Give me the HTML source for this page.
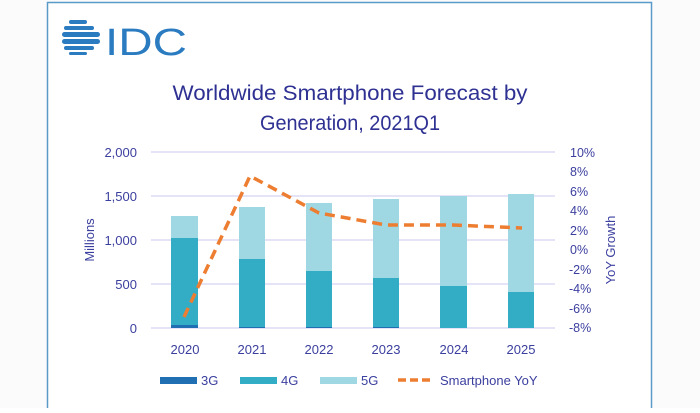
<!DOCTYPE html>
<html><head><meta charset="utf-8"><style>
html,body{margin:0;padding:0;background:#fff;}
body{width:700px;height:408px;overflow:hidden;}
</style></head><body>
<svg width="700" height="408" viewBox="0 0 700 408" xmlns="http://www.w3.org/2000/svg" font-family="Liberation Sans, sans-serif">
<rect x="0" y="0" width="700" height="408" fill="#fbfbfb"/>
<rect x="47.5" y="2.5" width="604" height="420" fill="#fff" stroke="#5a9ac8" stroke-width="1.5"/>
<!-- logo -->
<g fill="#2a7bc0">
<rect x="69" y="20" width="18" height="4" rx="2"/>
<rect x="64" y="26" width="30" height="4" rx="2"/>
<rect x="62" y="32" width="38" height="5" rx="2.5"/>
<rect x="62" y="39" width="38" height="5" rx="2.5"/>
<rect x="64" y="46" width="30" height="4" rx="2"/>
<rect x="69" y="52" width="18" height="3" rx="1.5"/>
</g>
<text x="105" y="55" font-size="38" fill="#2a7bc0" textLength="82" lengthAdjust="spacingAndGlyphs">IDC</text>
<text x="350" y="100" font-size="21" fill="#2e3192" text-anchor="middle" textLength="355" lengthAdjust="spacingAndGlyphs">Worldwide Smartphone Forecast by</text>
<text x="350" y="130" font-size="21" fill="#2e3192" text-anchor="middle" textLength="180" lengthAdjust="spacingAndGlyphs">Generation, 2021Q1</text>
<!-- grid -->
<g stroke="#c8c8ee" stroke-width="1">
<line x1="151" y1="152" x2="555" y2="152"/>
<line x1="151" y1="196" x2="555" y2="196"/>
<line x1="151" y1="240" x2="555" y2="240"/>
<line x1="151" y1="284" x2="555" y2="284"/>
<line x1="151" y1="328" x2="555" y2="328"/>
</g>
<g font-size="13" fill="#3b3f9e" text-anchor="end">
<text x="137" y="157">2,000</text>
<text x="137" y="201">1,500</text>
<text x="137" y="245">1,000</text>
<text x="137" y="289">500</text>
<text x="137" y="333">0</text>
</g>
<text transform="translate(94,240) rotate(-90)" font-size="13" fill="#3b3f9e" text-anchor="middle">Millions</text>
<!-- bars -->
<g>
<rect x="171" y="216" width="27" height="22" fill="#9fd7e3"/><rect x="171" y="238" width="27" height="87" fill="#33adc6"/><rect x="171" y="325" width="27" height="3" fill="#1f6fb2"/>
<rect x="239" y="207" width="26" height="52" fill="#9fd7e3"/><rect x="239" y="259" width="26" height="68" fill="#33adc6"/><rect x="239" y="327" width="26" height="1" fill="#1f6fb2"/>
<rect x="306" y="203" width="26" height="68" fill="#9fd7e3"/><rect x="306" y="271" width="26" height="56" fill="#33adc6"/><rect x="306" y="327" width="26" height="1" fill="#1f6fb2"/>
<rect x="373" y="199" width="26" height="79" fill="#9fd7e3"/><rect x="373" y="278" width="26" height="49" fill="#33adc6"/><rect x="373" y="327" width="26" height="1" fill="#1f6fb2"/>
<rect x="440" y="196" width="27" height="90" fill="#9fd7e3"/><rect x="440" y="286" width="27" height="42" fill="#33adc6"/>
<rect x="508" y="194" width="26" height="98" fill="#9fd7e3"/><rect x="508" y="292" width="26" height="36" fill="#33adc6"/>
</g>
<polyline points="184,317 250,176 319,213 386,225 453,225 522,228" fill="none" stroke="#ed7d31" stroke-width="3.5" stroke-dasharray="10,6"/>
<g font-size="13" fill="#3b3f9e" text-anchor="middle">
<text x="185" y="354">2020</text><text x="252" y="354">2021</text><text x="319" y="354">2022</text>
<text x="386" y="354">2023</text><text x="454" y="354">2024</text><text x="521" y="354">2025</text>
</g>
<g font-size="12.5" fill="#3b3f9e" text-anchor="start">
<text x="570" y="157">10%</text><text x="570" y="176">8%</text><text x="570" y="196">6%</text>
<text x="570" y="215">4%</text><text x="570" y="235">2%</text><text x="570" y="254">0%</text>
<text x="569" y="274">-2%</text><text x="569" y="293">-4%</text><text x="569" y="313">-6%</text><text x="569" y="332">-8%</text>
</g>
<text transform="translate(615,250) rotate(-90)" font-size="13" fill="#3b3f9e" text-anchor="middle">YoY Growth</text>
<!-- legend -->
<rect x="160" y="377" width="37" height="7" fill="#1f6fb2"/><text x="201" y="385" font-size="13" fill="#3b3f9e">3G</text>
<rect x="240" y="377" width="37" height="7" fill="#33adc6"/><text x="281" y="385" font-size="13" fill="#3b3f9e">4G</text>
<rect x="320" y="377" width="37" height="7" fill="#9fd7e3"/><text x="361" y="385" font-size="13" fill="#3b3f9e">5G</text>
<line x1="398" y1="380" x2="432" y2="380" stroke="#ed7d31" stroke-width="3.5" stroke-dasharray="8,4"/>
<text x="440" y="385" font-size="13" fill="#3b3f9e">Smartphone YoY</text>
</svg>
</body></html>
